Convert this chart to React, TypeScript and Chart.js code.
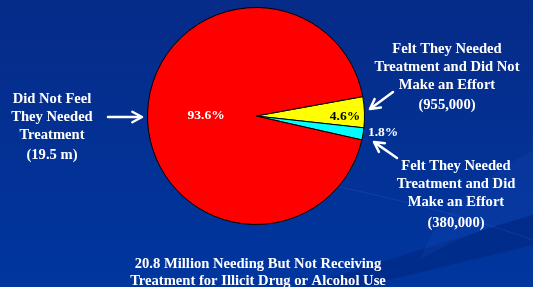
import React, { useEffect, useRef } from "react";
import { Chart, registerables } from "chart.js";

Chart.register(...registerables);

const sliceLabels = [
  "Felt They Needed Treatment and Did Not Make an Effort",
  "Felt They Needed Treatment and Did Make an Effort",
  "Did Not Feel They Needed Treatment",
];
const slicePercents = [4.6, 1.8, 93.6];
const sliceColors = ["#ffff00", "#00ffff", "#ff0000"];
const percentTextColors = ["#000000", "#ffffff", "#ffffff"];
const percentLabelRadius = [0.82, 1.18, 0.46];
const percentLabelAngleShift = [2, -2.5, 0];

const leftNote = ["Did Not Feel", "They Needed", "Treatment", "(19.5 m)"];
const upperNote = ["Felt They Needed", "Treatment and Did Not", "Make an Effort", "(955,000)"];
const lowerNote = ["Felt They Needed", "Treatment and Did", "Make an Effort", "(380,000)"];
const titleLines = [
  "20.8 Million Needing But Not Receiving",
  "Treatment for Illicit Drug or Alcohol Use",
];

const FONT = "bold 14.6px 'Liberation Serif', 'Times New Roman', serif";

function drawArrow(ctx: CanvasRenderingContext2D, x1: number, y1: number, x2: number, y2: number) {
  const a = Math.atan2(y2 - y1, x2 - x1);
  const h = 11;
  ctx.beginPath();
  ctx.moveTo(x1, y1);
  ctx.lineTo(x2 - Math.cos(a) * 2, y2 - Math.sin(a) * 2);
  ctx.stroke();
  ctx.beginPath();
  ctx.moveTo(x2 - h * Math.cos(a - 0.5), y2 - h * Math.sin(a - 0.5));
  ctx.lineTo(x2, y2);
  ctx.lineTo(x2 - h * Math.cos(a + 0.5), y2 - h * Math.sin(a + 0.5));
  ctx.stroke();
}

function drawLines(ctx: CanvasRenderingContext2D, lines: string[], x: number, ys: number[]) {
  lines.forEach((t, i) => ctx.fillText(t, x, ys[i]));
}

const backgroundPlugin = {
  id: "bg",
  beforeDraw(chart: any) {
    const ctx: CanvasRenderingContext2D = chart.ctx;
    const w = chart.width;
    const h = chart.height;
    ctx.save();
    const g = ctx.createLinearGradient(0, 0, 0, h);
    g.addColorStop(0, "#062b88");
    g.addColorStop(1, "#00369f");
    ctx.fillStyle = g;
    ctx.fillRect(0, 0, w, h);
    ctx.fillStyle = "rgba(0,20,90,0.25)";
    ctx.beginPath();
    ctx.moveTo(300, 287);
    ctx.quadraticCurveTo(420, 250, 533, 215);
    ctx.lineTo(533, 245);
    ctx.quadraticCurveTo(430, 270, 360, 287);
    ctx.closePath();
    ctx.fill();
    ctx.strokeStyle = "rgba(120,160,255,0.12)";
    ctx.lineWidth = 1;
    ctx.beginPath();
    ctx.moveTo(330, 185);
    ctx.quadraticCurveTo(450, 210, 533, 240);
    ctx.stroke();
    ctx.fillStyle = "rgba(60,110,230,0.10)";
    ctx.beginPath();
    ctx.moveTo(533, 150);
    ctx.quadraticCurveTo(440, 200, 420, 260);
    ctx.quadraticCurveTo(470, 230, 533, 215);
    ctx.closePath();
    ctx.fill();
    ctx.restore();
  },
};

const annotationPlugin = {
  id: "notes",
  afterDraw(chart: any) {
    const ctx: CanvasRenderingContext2D = chart.ctx;
    const meta = chart.getDatasetMeta(0);
    ctx.save();
    ctx.textAlign = "center";
    ctx.textBaseline = "middle";
    ctx.font = "bold 13.5px 'Liberation Serif', 'Times New Roman', serif";
    meta.data.forEach((arc: any, i: number) => {
      const p = arc.getProps(["x", "y", "startAngle", "endAngle", "outerRadius"], true);
      const mid = (p.startAngle + p.endAngle) / 2 + (percentLabelAngleShift[i] * Math.PI) / 180;
      const r = p.outerRadius * percentLabelRadius[i];
      ctx.fillStyle = percentTextColors[i];
      ctx.fillText(slicePercents[i].toFixed(1) + "%", p.x + Math.cos(mid) * r, p.y + Math.sin(mid) * r + 1);
    });

    ctx.fillStyle = "#ffffff";
    ctx.font = FONT;
    drawLines(ctx, leftNote, 52, [99, 117, 135, 155]);
    drawLines(ctx, upperNote, 447, [49, 67, 85, 105]);
    drawLines(ctx, lowerNote, 456, [166, 184, 202, 223]);
    drawLines(ctx, titleLines, 258, [264, 281]);

    ctx.strokeStyle = "#ffffff";
    ctx.lineWidth = 2.5;
    ctx.lineCap = "round";
    ctx.lineJoin = "round";
    drawArrow(ctx, 108, 117, 142, 117);
    drawArrow(ctx, 393, 92, 370, 109);
    drawArrow(ctx, 397, 158, 374, 142);
    ctx.restore();
  },
};

export default function App() {
  const ref = useRef<HTMLCanvasElement>(null);
  useEffect(() => {
    document.body.style.margin = "0";
    const chart = new Chart(ref.current!, {
      type: "pie",
      data: {
        labels: sliceLabels,
        datasets: [
          {
            data: slicePercents,
            backgroundColor: sliceColors,
            borderColor: "#000000",
            borderWidth: 1,
          },
        ],
      },
      options: {
        responsive: false,
        animation: false,
        rotation: 79.7,
        layout: { padding: { top: 7, bottom: 62, left: 147, right: 168 } },
        plugins: { legend: { display: false }, tooltip: { enabled: false } },
      },
      plugins: [backgroundPlugin, annotationPlugin],
    });
    return () => chart.destroy();
  }, []);
  return (
    <div style={{ width: 533, height: 287 }}>
      <canvas ref={ref} width={533} height={287} style={{ display: "block" }} />
    </div>
  );
}
